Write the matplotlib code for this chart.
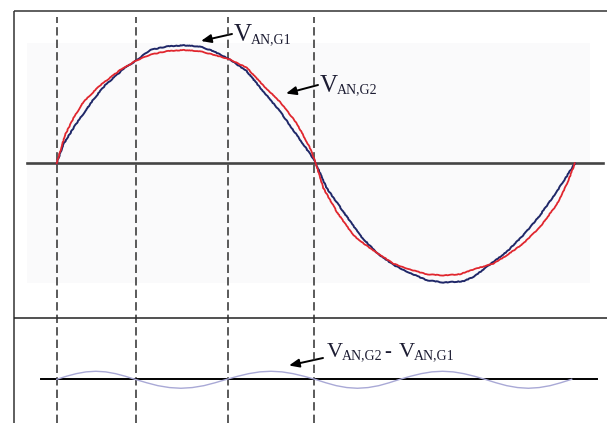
import matplotlib
matplotlib.use('Agg')
import matplotlib.pyplot as plt
from matplotlib.patches import Rectangle

# Phase-to-neutral voltages over one cycle (angle in deg, value in pu)
g1_angle = [0, 4.6, 12.7, 18.5, 25.4, 33.5, 47.4, 55.1, 64.8, 76.4, 87.9, 99.5,
            108.8, 120.4, 132.0, 143.5, 155.1, 166.7, 178.2, 180, 187.5, 199.1,
            210.7, 222.3, 233.8, 245.4, 257.0, 268.5, 282.4, 290.0, 296.3, 312.6,
            324.1, 335.7, 347.3, 360]
g1_val = [0, 0.16, 0.32, 0.42, 0.54, 0.66, 0.81, 0.87, 0.96, 0.99, 1.00, 0.99,
          0.95, 0.88, 0.78, 0.61, 0.44, 0.24, 0.04, 0, -0.21, -0.41,
          -0.61, -0.76, -0.86, -0.93, -0.99, -1.01, -1.00, -0.96, -0.90, -0.75,
          -0.61, -0.44, -0.24, 0]

g2_angle = [0, 5.8, 11.5, 18.5, 30.1, 44.0, 55.1, 64.8, 76.4, 87.9, 99.5, 108.8,
            120.4, 132.0, 143.5, 155.1, 166.7, 175.9, 180, 185.2, 194.5, 206.0,
            217.6, 233.8, 245.4, 257.0, 268.5, 280.1, 289.4, 303.3, 312.6, 324.1,
            335.7, 347.3, 354.2, 360]
g2_val = [0, 0.24, 0.38, 0.52, 0.66, 0.79, 0.87, 0.92, 0.95, 0.96, 0.95, 0.92,
          0.88, 0.81, 0.66, 0.52, 0.34, 0.13, 0, -0.21, -0.41, -0.61,
          -0.72, -0.85, -0.90, -0.94, -0.95, -0.94, -0.90, -0.85, -0.78, -0.68,
          -0.54, -0.35, -0.18, 0]

# V_AN,G2 - V_AN,G1
diff_angle = [0, 6.8, 13.6, 20.4, 27.2, 34.0, 40.8, 47.6,
              54.4, 62.4, 70.3, 78.3, 86.3, 94.2, 102.2, 110.1,
              118.1, 125.8, 133.4, 141.1, 148.8, 156.4, 164.1, 171.7,
              179.4, 186.8, 194.2, 201.5, 208.9, 216.3, 223.7, 231.0,
              238.4, 245.8, 253.2, 260.6, 268.0, 275.3, 282.7, 290.1,
              297.5, 305.0, 312.6, 320.1, 327.6, 335.1, 342.7, 350.2, 357.7]
diff_val = [0, .026, .048, .063, .068, .063, .048, .026,
            0, -.029, -.054, -.070, -.076, -.070, -.054, -.029,
            0, .026, .048, .063, .068, .063, .048, .026,
            0, -.029, -.054, -.070, -.076, -.070, -.054, -.029,
            0, .026, .048, .063, .068, .063, .048, .026,
            0, -.029, -.054, -.070, -.076, -.070, -.054, -.029, 0]

marker_deg = [0, 55, 119, 179]

plt.rcParams['font.family'] = ['Liberation Serif', 'DejaVu Serif']
plt.rcParams['lines.scale_dashes'] = False

W, H = 607, 423
fig = plt.figure(figsize=(W / 100, H / 100), dpi=100)

# pixel frame: borders, shading, labels
ax0 = fig.add_axes([0, 0, 1, 1])
ax0.set_xlim(0, W)
ax0.set_ylim(H, 0)
ax0.axis('off')
ax0.add_patch(Rectangle((27, 43), 563, 240, fc='#fafafb', ec='none'))
ax0.plot([14, W], [11, 11], color='#333333', lw=1.1, solid_capstyle='butt')
ax0.plot([14, 14], [11, H], color='#333333', lw=1.1, solid_capstyle='butt')
ax0.plot([14, W], [318.5, 318.5], color='#222222', lw=1.1, solid_capstyle='butt')

# shared angle scale
x0, px_per_deg = 56.7, 1.4397
xl = ((0 - x0) / px_per_deg, (W - x0) / px_per_deg)
scale = 118.0

ax1 = fig.add_axes([0, 0, 1, 1])
ax1.set_xlim(*xl)
ax1.set_ylim((163.3 - H) / scale, 163.3 / scale)
ax1.axis('off')
ax1.vlines(marker_deg, (163.3 - H) / scale, (163.3 - 17) / scale,
           colors='#2e2e2e', linestyles=(0, (6.0, 3.0)), lw=1.1)
ax1.axhline(0, xmin=27 / W, xmax=603 / W, color='#444444', lw=1.9)
l1, = ax1.plot(g1_angle, g1_val, color='#1f2768', lw=1.4)
l2, = ax1.plot(g2_angle, g2_val, color='#e0262e', lw=1.3)
l1.set_sketch_params(scale=0.3, length=6, randomness=8)
l2.set_sketch_params(scale=0.25, length=6, randomness=8)

ax2 = fig.add_axes([0, 0, 1, 1])
ax2.set_xlim(*xl)
ax2.set_ylim((379.3 - H) / scale, 379.3 / scale)
ax2.axis('off')
ax2.axhline(0, xmin=41 / W, xmax=597 / W, color='black', lw=1.4)
ax2.plot(diff_angle, diff_val, color='#a9a9d6', lw=1.0)

# labels
tc = '#1d1d33'
def vlabel(x, y, sub, big=18, small=10, dx=16.5):
    ax0.text(x, y, 'V', fontsize=big, color=tc, va='baseline', ha='left')
    ax0.text(x + dx, y + 2, sub, fontsize=small, color=tc, va='baseline', ha='left')

vlabel(234, 41, 'AN,G1')
vlabel(320, 91.5, 'AN,G2')
vlabel(326.5, 357, 'AN,G2', big=16, dx=15)
ax0.text(384, 357, '-', fontsize=15, color=tc, va='baseline', ha='left')
vlabel(399, 357, 'AN,G1', big=16, dx=15)

arrow = dict(arrowstyle='-|>,head_length=0.6,head_width=0.25', color='black', lw=1.4,
             shrinkA=0, shrinkB=0)
ax0.annotate('', xy=(201, 41), xytext=(232, 34), arrowprops=arrow)
ax0.annotate('', xy=(286, 93.5), xytext=(318, 85), arrowprops=arrow)
ax0.annotate('', xy=(289, 365.5), xytext=(323, 358), arrowprops=arrow)

fig.savefig('out.png', dpi=100, facecolor='white')
